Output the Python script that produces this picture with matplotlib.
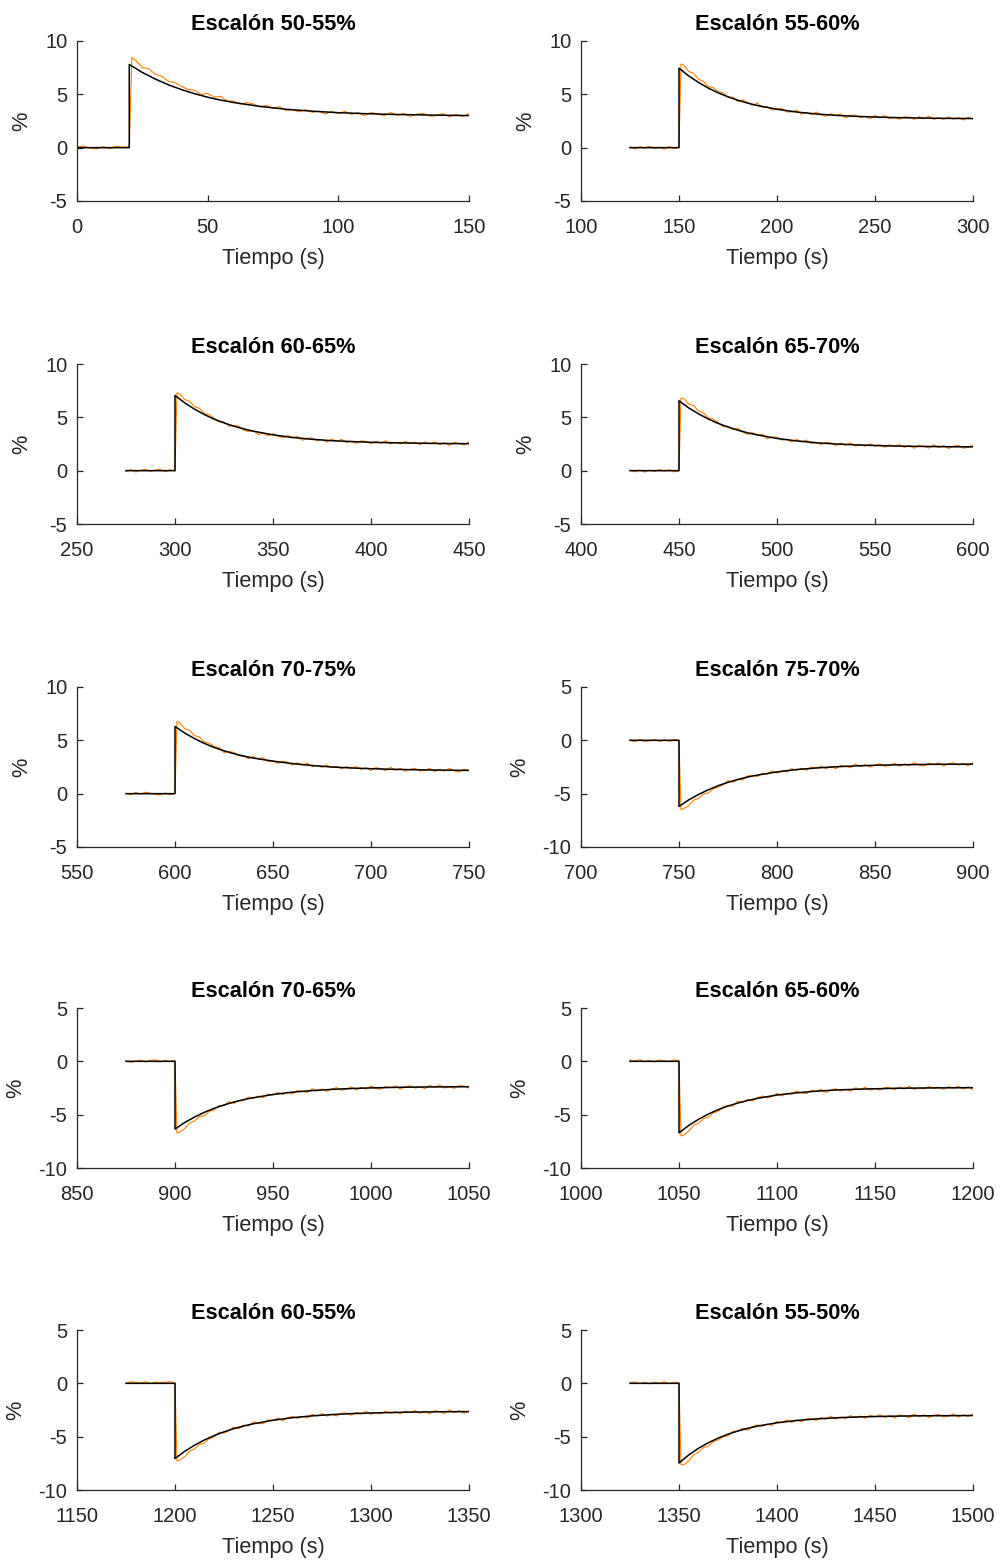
import numpy as np
import matplotlib
matplotlib.use("Agg")
import matplotlib.pyplot as plt

plt.rcParams['font.family'] = ['Liberation Sans', 'DejaVu Sans']
plt.rcParams['axes.unicode_minus'] = False

# =========================================================
# DATOS: escalones de la prueba (medido vs. modelo)
# =========================================================
titulos = ['Escalón 50-55%', 'Escalón 55-60%', 'Escalón 60-65%', 'Escalón 65-70%',
           'Escalón 70-75%', 'Escalón 75-70%', 'Escalón 70-65%', 'Escalón 65-60%',
           'Escalón 60-55%', 'Escalón 55-50%']
t_escalon = [20, 150, 300, 450, 600, 750, 900, 1050, 1200, 1350]
t_inicio = [0, 125, 275, 425, 575, 725, 875, 1025, 1175, 1325]
t_final = [150, 300, 450, 600, 750, 900, 1050, 1200, 1350, 1500]
x_limites = [(0, 150), (100, 300), (250, 450), (400, 600), (550, 750),
             (700, 900), (850, 1050), (1000, 1200), (1150, 1350), (1300, 1500)]
y_limites = [(-5, 10)] * 5 + [(-10, 5)] * 5

# instantes (s después del escalón) en que se evalúa la respuesta del modelo
offsets_modelo = [0, 5, 10, 15, 20, 25, 30, 35, 40, 50, 60, 70, 80, 90,
                  100, 110, 120, 130, 140, 150]

modelo_1 = [7.80, 7.05, 6.43, 5.89, 5.44, 5.06, 4.73, 4.46, 4.23, 3.87, 3.60, 3.42,
            3.28, 3.19, 3.12, 3.08, 3.04, 3.01]
modelo_2 = [7.45, 6.72, 6.11, 5.58, 5.14, 4.77, 4.45, 4.18, 3.95, 3.60, 3.34, 3.16,
            3.03, 2.94, 2.87, 2.82, 2.79, 2.76, 2.74, 2.73]
modelo_3 = [7.05, 6.35, 5.76, 5.26, 4.83, 4.48, 4.17, 3.92, 3.70, 3.36, 3.11, 2.94,
            2.81, 2.73, 2.66, 2.62, 2.59, 2.56, 2.54, 2.53]
modelo_4 = [6.55, 5.88, 5.32, 4.84, 4.43, 4.09, 3.80, 3.55, 3.35, 3.02, 2.79, 2.62,
            2.50, 2.42, 2.36, 2.31, 2.28, 2.26, 2.24, 2.23]
modelo_5 = [6.30, 5.68, 5.16, 4.71, 4.33, 4.02, 3.75, 3.52, 3.34, 3.05, 2.82, 2.64,
            2.50, 2.41, 2.34, 2.29, 2.25, 2.22, 2.20, 2.18]
modelo_6 = [-6.20, -5.58, -5.07, -4.63, -4.25, -3.94, -3.67, -3.44, -3.26, -2.96, -2.74,
            -2.59, -2.48, -2.40, -2.34, -2.30, -2.27, -2.25, -2.24, -2.23]
modelo_7 = [-6.35, -5.73, -5.22, -4.78, -4.40, -4.09, -3.82, -3.59, -3.41, -3.11, -2.89,
            -2.74, -2.63, -2.55, -2.49, -2.45, -2.42, -2.40, -2.39, -2.38]
modelo_8 = [-6.70, -6.01, -5.43, -4.94, -4.53, -4.19, -3.91, -3.67, -3.47, -3.16, -2.95,
            -2.80, -2.69, -2.62, -2.57, -2.53, -2.51, -2.49, -2.48, -2.47]
modelo_9 = [-7.05, -6.37, -5.80, -5.31, -4.89, -4.55, -4.25, -4.00, -3.79, -3.46, -3.22,
            -3.05, -2.93, -2.84, -2.78, -2.74, -2.70, -2.68, -2.66, -2.65]
modelo_10 = [-7.47, -6.71, -6.08, -5.57, -5.13, -4.77, -4.47, -4.22, -4.01, -3.70, -3.48,
             -3.34, -3.23, -3.16, -3.11, -3.08, -3.05, -3.04, -3.03, -3.02]

# medidas cada 2.5 s (más una muestra 1 s después del escalón)
medido_1 = [0.08, 0.15, -0.04, -0.12, 0.10, -0.08, 0.14, 0.04, 0.06,
            8.45,
            8.17, 7.52, 7.39, 6.88, 6.69, 6.21, 6.11, 5.75,
            5.45, 5.38, 4.99, 5.09, 4.75, 4.81, 4.38, 4.37,
            4.07, 4.23, 4.10, 3.81, 3.97, 3.69, 3.85, 3.48,
            3.55, 3.36, 3.57, 3.31, 3.42, 3.16, 3.39, 3.19,
            3.41, 3.12, 3.29, 3.01, 3.29, 3.18, 2.99, 3.30,
            3.03, 3.20, 2.93, 3.13, 3.21, 2.94, 3.01, 3.20,
            2.89, 3.11, 2.92, 3.19]
medido_2 = [0.08, -0.12, 0.10, -0.06, 0.14, -0.10, 0.05, -0.14, 0.12, -0.08, 0.02,
            7.85,
            7.73, 7.14, 6.96, 6.41, 6.22, 5.73, 5.62, 5.25,
            5.15, 4.70, 4.74, 4.32, 4.48, 4.25, 3.96, 4.18,
            3.78, 3.87, 3.53, 3.65, 3.67, 3.35, 3.36, 3.50,
            3.15, 3.33, 3.10, 3.34, 3.07, 2.94, 3.18, 3.01,
            3.16, 2.80, 3.02, 3.06, 2.82, 2.94, 2.73, 3.01,
            2.81, 3.01, 2.71, 2.84, 2.66, 2.90, 2.86, 2.65,
            2.90, 2.69, 2.95, 2.64, 2.79, 2.65, 2.89, 2.68,
            2.82, 2.59, 2.85, 2.69]
medido_3 = [-0.06, 0.10, -0.12, 0.04, 0.13, -0.08, 0.06, 0.14, -0.10, 0.08, -0.02,
            7.30,
            7.20, 6.67, 6.50, 6.01, 5.84, 5.36, 5.25, 4.91,
            4.57, 4.58, 4.16, 4.22, 4.18, 3.80, 3.67, 3.76,
            3.39, 3.53, 3.26, 3.46, 3.24, 3.08, 3.29, 3.09,
            3.22, 2.84, 3.04, 3.06, 2.81, 2.91, 2.68, 2.95,
            2.74, 2.94, 2.63, 2.75, 2.56, 2.80, 2.74, 2.52,
            2.77, 2.56, 2.81, 2.50, 2.65, 2.50, 2.75, 2.53,
            2.66, 2.43, 2.69, 2.52, 2.70, 2.43, 2.62, 2.36,
            2.66, 2.55, 2.38, 2.71]
medido_4 = [0.05, -0.12, 0.08, -0.14, 0.06, -0.09, 0.12, -0.05, 0.09, -0.12, 0.0,
            6.80,
            6.76, 6.25, 6.10, 5.59, 5.42, 4.94, 4.84, 4.51,
            4.12, 4.17, 3.84, 3.98, 3.61, 3.40, 3.57, 3.33,
            3.42, 3.00, 3.16, 3.14, 2.86, 2.94, 2.69, 2.93,
            2.70, 2.87, 2.54, 2.64, 2.44, 2.66, 2.59, 2.36,
            2.60, 2.38, 2.62, 2.30, 2.44, 2.29, 2.52, 2.30,
            2.43, 2.19, 2.44, 2.27, 2.45, 2.17, 2.37, 2.10,
            2.39, 2.29, 2.11, 2.44, 2.17, 2.35, 2.08, 2.29,
            2.38, 2.11, 2.19, 2.39]
medido_5 = [0.02, -0.10, 0.12, -0.06, 0.14, 0.04, -0.08, -0.12, 0.06, -0.10, 0.05,
            6.75,
            6.64, 6.10, 5.92, 5.45, 5.30, 4.83, 4.74, 4.41,
            4.33, 3.84, 3.95, 3.87, 3.54, 3.56, 3.27, 3.48,
            3.22, 3.37, 3.00, 3.07, 2.84, 3.04, 2.94, 2.68,
            2.90, 2.65, 2.87, 2.52, 2.65, 2.47, 2.69, 2.44,
            2.56, 2.32, 2.55, 2.37, 2.54, 2.26, 2.44, 2.16,
            2.45, 2.34, 2.15, 2.47, 2.20, 2.37, 2.10, 2.30,
            2.38, 2.12, 2.19, 2.38, 2.07, 2.29, 2.10, 2.38,
            2.13, 2.04, 2.30, 2.16]
medido_6 = [0.04, -0.12, 0.08, -0.10, -0.03, 0.10, -0.12, 0.06, -0.09, 0.10, 0.0,
            -6.50,
            -6.39, -6.11, -5.61, -5.44, -5.03, -4.93, -4.54, -4.41,
            -4.15, -3.77, -3.93, -3.65, -3.71, -3.34, -3.29, -3.40,
            -3.07, -3.19, -2.86, -3.08, -2.87, -2.95, -2.65, -2.80,
            -2.62, -2.81, -2.51, -2.63, -2.41, -2.66, -2.43, -2.66,
            -2.34, -2.42, -2.57, -2.22, -2.47, -2.27, -2.52, -2.29,
            -2.19, -2.44, -2.35, -2.14, -2.43, -2.21, -2.38, -2.09,
            -2.32, -2.41, -2.13, -2.27, -2.10, -2.42, -2.18, -2.12,
            -2.33, -2.19, -2.39, -2.09]
medido_7 = [0.05, -0.10, 0.02, 0.13, -0.07, 0.10, 0.14, -0.06, 0.11, -0.02, 0.06,
            -6.70,
            -6.64, -6.31, -5.78, -5.60, -5.19, -5.10, -4.70, -4.56,
            -4.13, -4.17, -3.78, -3.94, -3.67, -3.69, -3.35, -3.47,
            -3.26, -3.40, -3.07, -3.15, -2.91, -3.12, -2.87, -3.07,
            -2.73, -2.80, -2.93, -2.56, -2.79, -2.59, -2.82, -2.58,
            -2.47, -2.71, -2.61, -2.39, -2.68, -2.44, -2.61, -2.31,
            -2.54, -2.62, -2.34, -2.47, -2.29, -2.62, -2.37, -2.30,
            -2.51, -2.37, -2.56, -2.26, -2.45, -2.22, -2.51, -2.37,
            -2.53, -2.28, -2.32, -2.52]
medido_8 = [0.14, 0.02, 0.16, -0.04, 0.10, -0.06, 0.13, 0.06, -0.02, 0.14, 0.05,
            -7.00,
            -6.90, -6.54, -6.00, -5.80, -5.37, -5.24, -4.83, -4.69,
            -4.24, -4.17, -4.20, -3.73, -3.87, -3.57, -3.73, -3.42,
            -3.25, -3.44, -3.28, -3.00, -3.25, -2.98, -3.10, -2.77,
            -2.97, -3.03, -2.72, -2.82, -2.62, -2.93, -2.66, -2.57,
            -2.77, -2.62, -2.80, -2.48, -2.66, -2.43, -2.70, -2.55,
            -2.71, -2.45, -2.48, -2.67, -2.41, -2.60, -2.34, -2.63,
            -2.47, -2.60, -2.35, -2.55, -2.41, -2.63, -2.36, -2.52,
            -2.33, -2.59, -2.39, -2.65]
medido_9 = [0.02, 0.14, 0.10, 0.0, 0.15, -0.03, 0.12, 0.06, 0.10, 0.16, 0.04,
            -7.25,
            -7.21, -6.87, -6.35, -6.15, -5.73, -5.61, -5.19, -5.05,
            -4.58, -4.67, -4.44, -4.09, -4.27, -3.92, -4.00, -3.61,
            -3.77, -3.78, -3.42, -3.48, -3.25, -3.52, -3.22, -3.10,
            -3.28, -3.10, -3.25, -2.91, -3.07, -2.82, -3.08, -2.91,
            -3.06, -2.79, -2.80, -2.98, -2.71, -2.89, -2.62, -2.90,
            -2.73, -2.86, -2.60, -2.80, -2.65, -2.86, -2.59, -2.74,
            -2.55, -2.81, -2.61, -2.86, -2.56, -2.65, -2.82, -2.48,
            -2.74, -2.56, -2.81, -2.60]
medido_10 = [0.04, 0.14, -0.04, 0.10, -0.06, 0.12, 0.02, 0.15, -0.03, 0.10, 0.05,
             -7.60,
             -7.64, -7.27, -6.70, -6.46, -6.02, -5.89, -5.46, -5.30,
             -5.01, -4.92, -4.50, -4.49, -4.20, -4.40, -4.06, -3.89,
             -4.03, -3.82, -3.94, -3.56, -3.70, -3.42, -3.66, -3.46,
             -3.60, -3.31, -3.32, -3.48, -3.19, -3.37, -3.08, -3.35,
             -3.17, -3.30, -3.03, -3.22, -3.07, -3.28, -3.00, -3.15,
             -2.95, -3.22, -3.01, -3.26, -2.95, -3.05, -3.21, -2.87,
             -3.13, -2.95, -3.20, -2.99, -2.90, -3.15, -3.07, -2.87,
             -3.17, -2.94, -3.12, -2.84]

modelos = [modelo_1, modelo_2, modelo_3, modelo_4, modelo_5,
           modelo_6, modelo_7, modelo_8, modelo_9, modelo_10]
medidos = [medido_1, medido_2, medido_3, medido_4, medido_5,
           medido_6, medido_7, medido_8, medido_9, medido_10]


def tiempos_medidos(t_ini, t0, t_fin):
    """Rejilla de muestreo de la medida: cada 2.5 s, con una muestra extra a t0+1."""
    pre = np.arange(t_ini, t0 + 0.01, 2.5)
    post = np.arange(t0 + 2.5, t_fin + 0.01, 2.5)
    return np.concatenate([pre, [t0 + 1.0], post])


# =========================================================
# FIGURA: 5 filas x 2 columnas, estilo "box off"
# =========================================================
fig = plt.figure(figsize=(10.0, 15.61), dpi=100)
W, H = 1000.0, 1561.0
izq_px = [77, 581]
sup_px = [41, 364, 687, 1008, 1330]
ancho_px, alto_px = 392, 160
gris = '#262626'

for i in range(10):
    fila, col = divmod(i, 2)
    ax = fig.add_axes([izq_px[col] / W, 1 - (sup_px[fila] + alto_px) / H,
                       ancho_px / W, alto_px / H])

    t0 = t_escalon[i]
    tm = tiempos_medidos(t_inicio[i], t0, t_final[i])
    ax.plot(tm, medidos[i], color='#ff8000', linewidth=0.8)

    n = len(modelos[i])
    t_mod = [t_inicio[i], t0] + [t0 + d for d in offsets_modelo[:n]]
    y_mod = [0.0, 0.0] + modelos[i]
    ax.plot(t_mod, y_mod, color='black', linewidth=1.1)

    ax.set_xlim(*x_limites[i])
    ax.set_ylim(*y_limites[i])
    ax.set_xticks(np.arange(x_limites[i][0], x_limites[i][1] + 1, 50))
    ax.set_yticks(np.arange(y_limites[i][0], y_limites[i][1] + 1, 5))

    for lado in ['top', 'right']:
        ax.spines[lado].set_visible(False)
    for lado in ['left', 'bottom']:
        ax.spines[lado].set_color(gris)
        ax.spines[lado].set_linewidth(0.9)
    ax.tick_params(direction='in', length=4, width=0.9, color=gris,
                   labelcolor=gris, labelsize=14.5)
    ax.tick_params(axis='x', pad=12)
    ax.tick_params(axis='y', pad=7)

    ax.set_title(titulos[i], fontsize=15.7, fontweight='bold', pad=8)
    ax.set_xlabel('Tiempo (s)', fontsize=15.7, color=gris, labelpad=8)
    ax.set_ylabel('%', fontsize=15.7, color=gris)
    # el "%" se aparta más cuando las marcas llevan tres caracteres (-10)
    x_ylabel = -0.115 if y_limites[i][0] == -5 else -0.13
    ax.yaxis.set_label_coords(x_ylabel, 0.5)

fig.savefig('out.png', dpi=100, facecolor='white')
